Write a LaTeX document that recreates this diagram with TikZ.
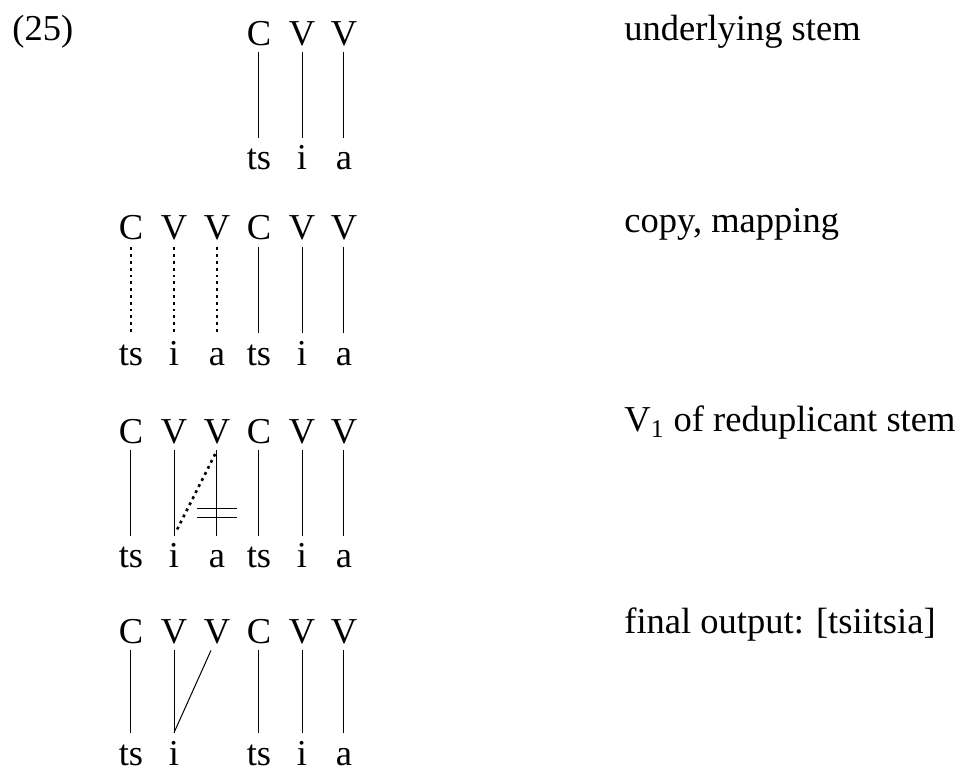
\documentclass[tikz,border=0pt]{standalone}
\usepackage{fontspec}
\setmainfont{Liberation Serif}
\usetikzlibrary{calc}
\pgfdeclarelayer{bg}
\pgfsetlayers{bg,main}

\begin{document}
\begin{tikzpicture}[
        font=\fontsize{18.25}{22}\selectfont,
        skel/.style={anchor=base, inner xsep=0pt, inner ysep=3.5pt, text depth=0pt},
        melo/.style={anchor=base, inner sep=0pt, text height=16pt, text depth=0pt},
        gloss/.style={anchor=base west, inner sep=0pt},
        assoc/.style={line width=0.5pt},
        copied/.style={line width=1.3pt, dash pattern=on 1.4pt off 2pt}]
        \useasboundingbox (0cm, 0cm) rectangle (16.958cm, -13.549cm);
        \node (ex) [gloss] at (0.211cm, -0.703cm) {(25)};
        % underlying stem
        \node (s14) [skel] at (4.551cm, -0.791cm) {C};
        \node (s15) [skel] at (5.307cm, -0.791cm) {V};
        \node (s16) [skel] at (6.045cm, -0.791cm) {V};
        \node (m14) [melo] at (4.551cm, -2.987cm) {ts};
        \node (m15) [melo] at (5.307cm, -2.987cm) {i};
        \node (m16) [melo] at (6.045cm, -2.987cm) {a};
        \node (g1) [gloss] at (10.966cm, -0.703cm) {underlying stem};
        % copy, mapping
        \node (s21) [skel] at (2.302cm, -4.217cm) {C};
        \node (s22) [skel] at (3.058cm, -4.217cm) {V};
        \node (s23) [skel] at (3.813cm, -4.217cm) {V};
        \node (s24) [skel] at (4.551cm, -4.217cm) {C};
        \node (s25) [skel] at (5.307cm, -4.217cm) {V};
        \node (s26) [skel] at (6.045cm, -4.217cm) {V};
        \node (m21) [melo] at (2.302cm, -6.414cm) {ts};
        \node (m22) [melo] at (3.058cm, -6.414cm) {i};
        \node (m23) [melo] at (3.813cm, -6.414cm) {a};
        \node (m24) [melo] at (4.551cm, -6.414cm) {ts};
        \node (m25) [melo] at (5.307cm, -6.414cm) {i};
        \node (m26) [melo] at (6.045cm, -6.414cm) {a};
        \node (g2) [gloss] at (10.966cm, -4.094cm) {copy, mapping};
        % V1 of reduplicant
        \node (s31) [skel] at (2.302cm, -7.785cm) {C};
        \node (s32) [skel] at (3.058cm, -7.785cm) {V};
        \node (s33) [skel] at (3.813cm, -7.785cm) {V};
        \node (s34) [skel] at (4.551cm, -7.785cm) {C};
        \node (s35) [skel] at (5.307cm, -7.785cm) {V};
        \node (s36) [skel] at (6.045cm, -7.785cm) {V};
        \node (m31) [melo] at (2.302cm, -9.981cm) {ts};
        \node (m32) [melo] at (3.058cm, -9.981cm) {i};
        \node (m33) [melo] at (3.813cm, -9.981cm) {a};
        \node (m34) [melo] at (4.551cm, -9.981cm) {ts};
        \node (m35) [melo] at (5.307cm, -9.981cm) {i};
        \node (m36) [melo] at (6.045cm, -9.981cm) {a};
        \node (g3) [gloss] at (10.966cm, -7.591cm) {V\textsubscript{1} of reduplicant stem};
        % final output
        \node (s41) [skel] at (2.302cm, -11.300cm) {C};
        \node (s42) [skel] at (3.058cm, -11.300cm) {V};
        \node (s43) [skel] at (3.813cm, -11.300cm) {V};
        \node (s44) [skel] at (4.551cm, -11.300cm) {C};
        \node (s45) [skel] at (5.307cm, -11.300cm) {V};
        \node (s46) [skel] at (6.045cm, -11.300cm) {V};
        \node (m41) [melo] at (2.302cm, -13.444cm) {ts};
        \node (m42) [melo] at (3.058cm, -13.444cm) {i};
        \node (m44) [melo] at (4.551cm, -13.444cm) {ts};
        \node (m45) [melo] at (5.307cm, -13.444cm) {i};
        \node (m46) [melo] at (6.045cm, -13.444cm) {a};
        \node (g4) [gloss] at (10.966cm, -11.141cm) {final output: [tsiitsia]};
        \coordinate (x33) at ($(s33.south)!0.73!(m33.north)$);
        \begin{pgfonlayer}{bg}
                \draw (s14.south) edge [assoc] (m14.north);
                \draw (s15.south) edge [assoc] (m15.north);
                \draw (s16.south) edge [assoc] (m16.north);
                \draw (s21.south) edge [copied] (m21.north);
                \draw (s22.south) edge [copied] (m22.north);
                \draw (s23.south) edge [copied] (m23.north);
                \draw (s24.south) edge [assoc] (m24.north);
                \draw (s25.south) edge [assoc] (m25.north);
                \draw (s26.south) edge [assoc] (m26.north);
                \draw (s31.south) edge [assoc] (m31.north);
                \draw (s32.south) edge [assoc] (m32.north);
                \draw (s33.south) edge [assoc] (m33.north);
                \draw (s33.south) edge [copied, shorten <=2pt, shorten >=3pt] (m32.north);
                \draw (s34.south) edge [assoc] (m34.north);
                \draw (s35.south) edge [assoc] (m35.north);
                \draw (s36.south) edge [assoc] (m36.north);
                \draw [assoc] ([xshift=-10pt, yshift=2.25pt]x33) -- ++(20pt, 0);
                \draw [assoc] ([xshift=-10pt, yshift=-2.25pt]x33) -- ++(20pt, 0);
                \draw (s41.south) edge [assoc] (m41.north);
                \draw (s42.south) edge [assoc] (m42.north);
                \draw ([xshift=-3pt]s43.south) edge [assoc] (m42.north);
                \draw (s44.south) edge [assoc] (m44.north);
                \draw (s45.south) edge [assoc] (m45.north);
                \draw (s46.south) edge [assoc] (m46.north);
        \end{pgfonlayer}
\end{tikzpicture}
\end{document}
